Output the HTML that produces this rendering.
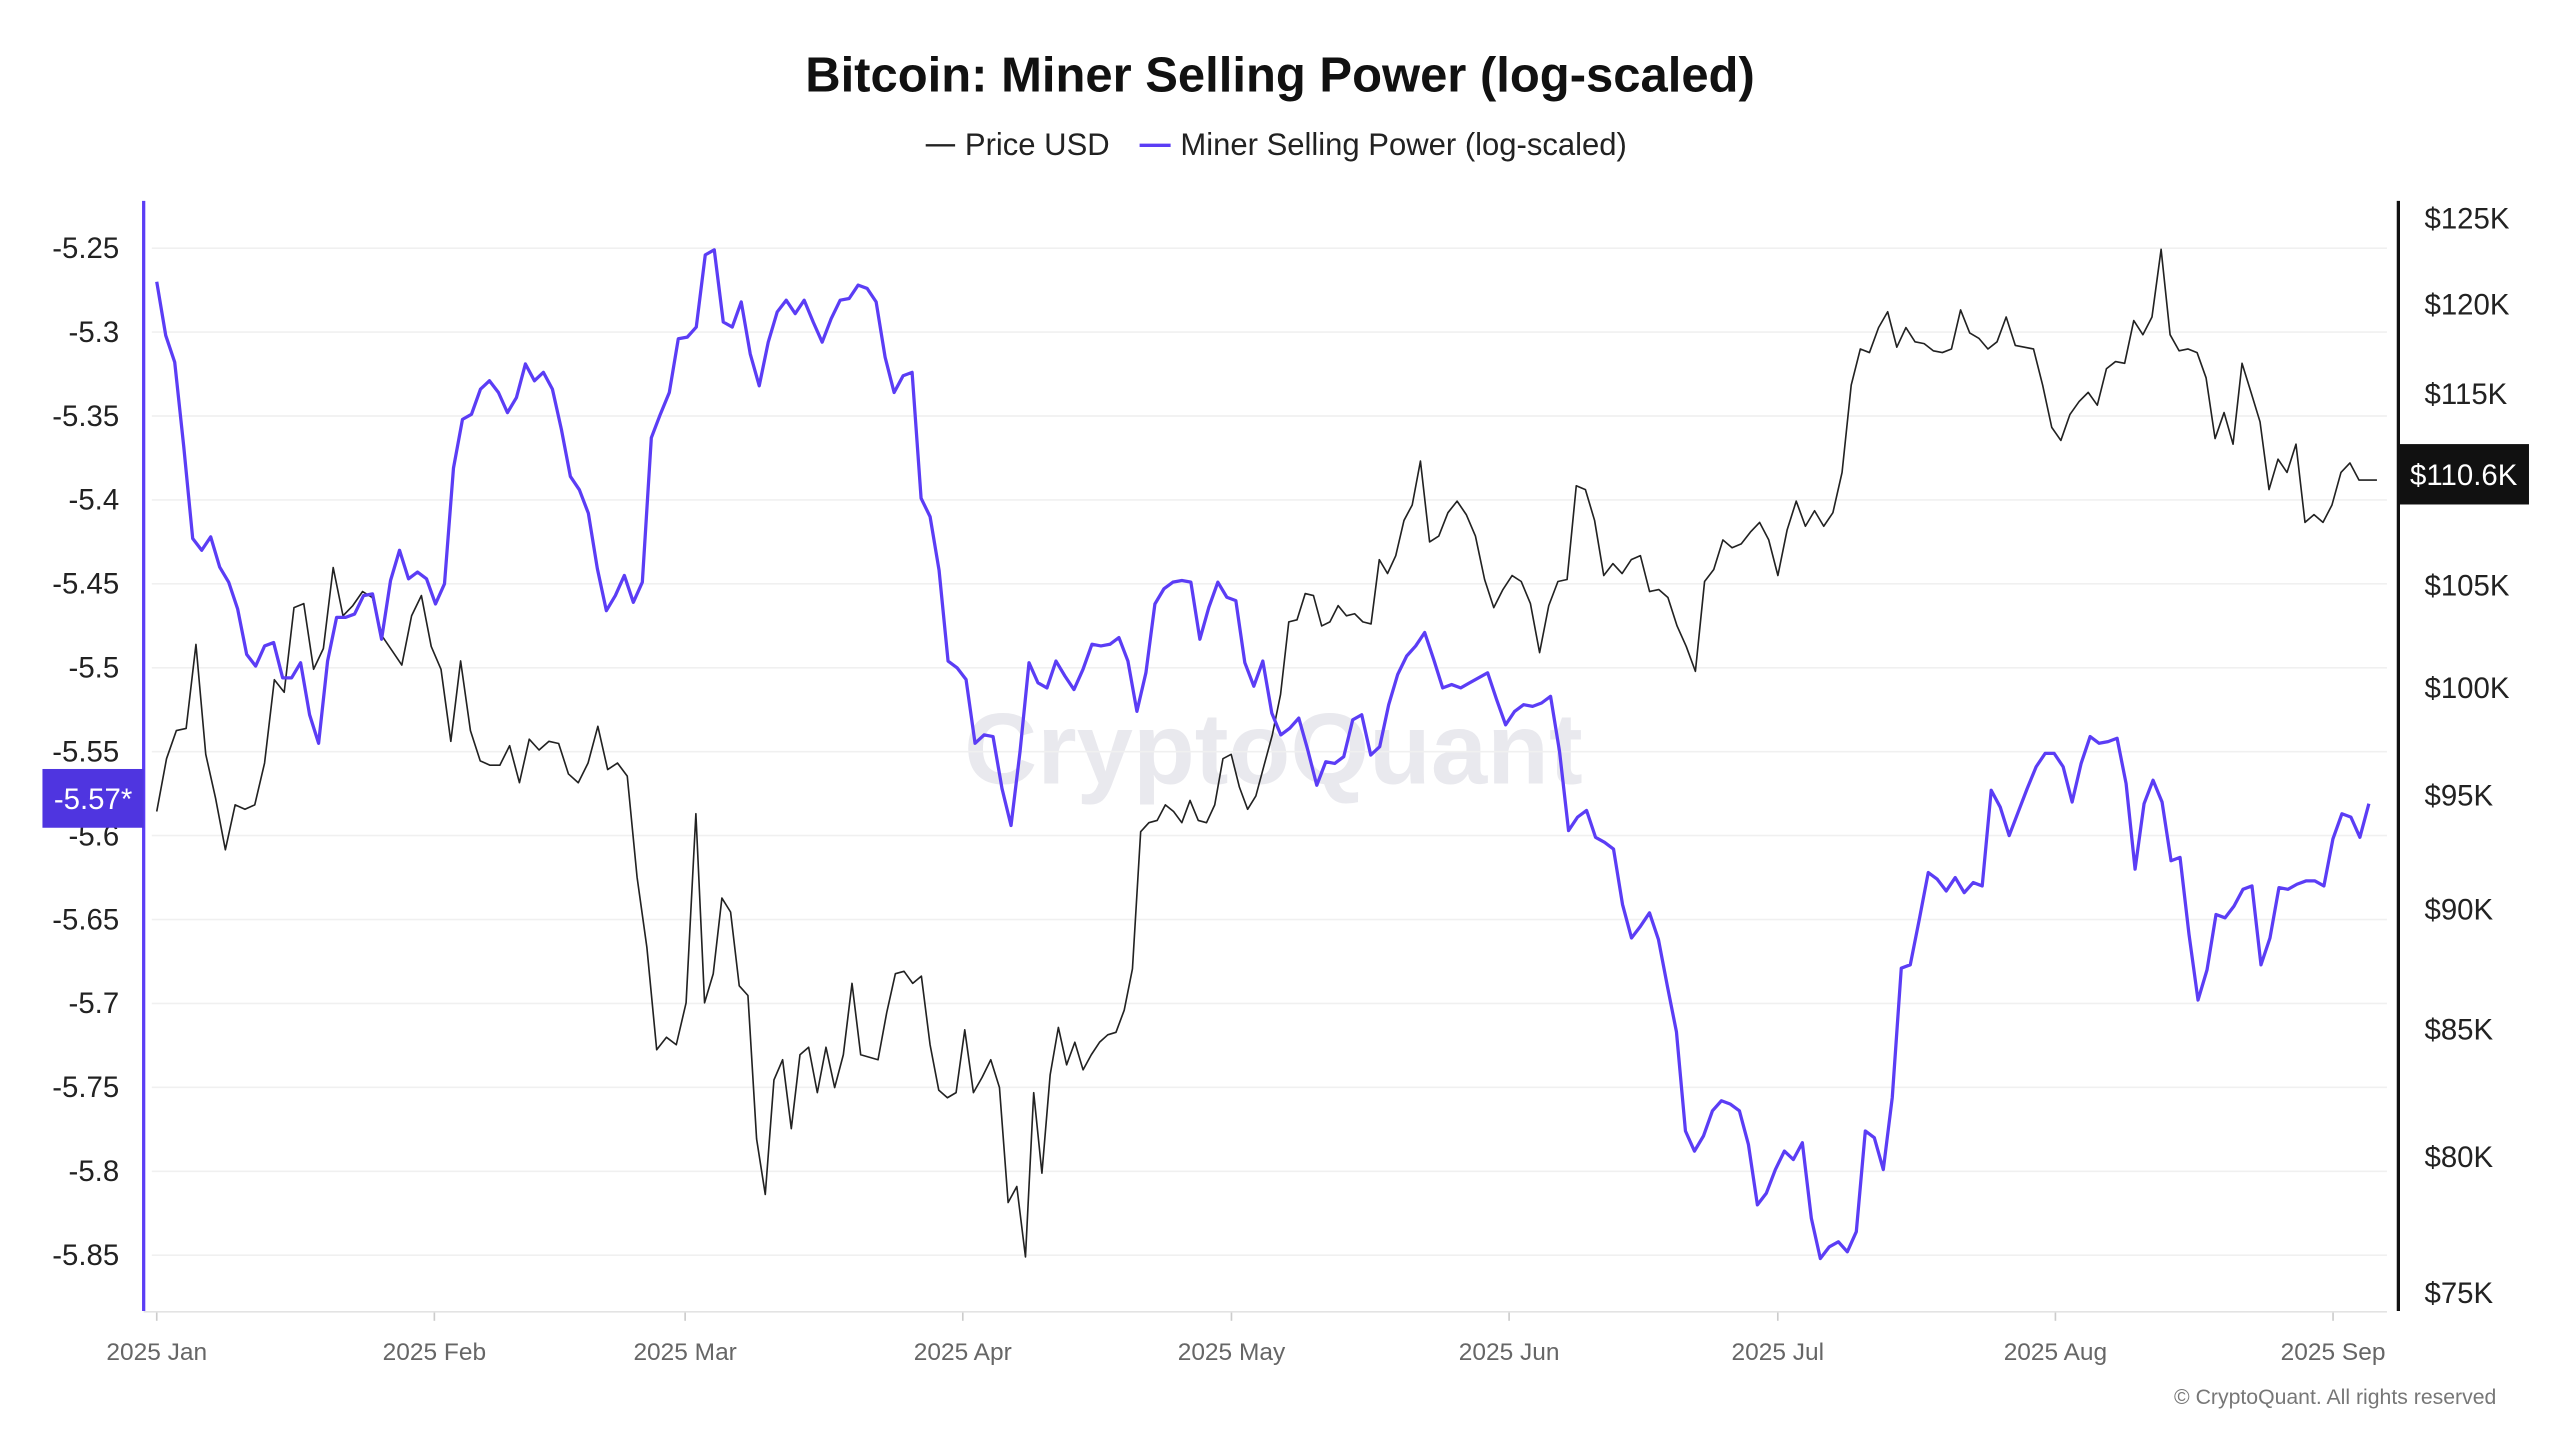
<!DOCTYPE html>
<html><head><meta charset="utf-8"><style>
html,body{margin:0;padding:0;background:#fff;}
svg{display:block;font-family:"Liberation Sans",sans-serif;}
</style></head><body>
<svg id="chart" width="2560" height="1440" viewBox="0 0 1568 882" xmlns="http://www.w3.org/2000/svg">
<rect width="1568" height="882" fill="#fff"/>
<text x="780" y="480" text-anchor="middle" font-size="62" font-weight="bold" fill="#e9e9ee">CryptoQuant</text>
<text x="784" y="56" text-anchor="middle" font-size="30" font-weight="bold" fill="#111">Bitcoin: Miner Selling Power (log-scaled)</text>
<g>
<g><line x1="567" y1="89" x2="585" y2="89" stroke="#222" stroke-width="1.5"/><text x="591" y="95" font-size="19" fill="#222">Price USD</text></g>
<g><line x1="698" y1="89" x2="717" y2="89" stroke="#5b3df5" stroke-width="2"/><text x="723" y="95" font-size="19" fill="#222">Miner Selling Power (log-scaled)</text></g>
</g>
<g id="grid"></g>
<g id="axes"></g>
<g id="series"></g>
<g id="badges"></g>
<text x="1529" y="860" text-anchor="end" font-size="13" fill="#777">© CryptoQuant. All rights reserved</text>
</svg>
<script>
const leftTicks=[-5.25,-5.3,-5.35,-5.4,-5.45,-5.5,-5.55,-5.6,-5.65,-5.7,-5.75,-5.8,-5.85];
const leftTickLabels=["-5.25","-5.3","-5.35","-5.4","-5.45","-5.5","-5.55","-5.6","-5.65","-5.7","-5.75","-5.8","-5.85"];
const rightTicks=[75,80,85,90,95,100,105,115,120,125];
const rightTickLabels=["$75K","$80K","$85K","$90K","$95K","$100K","$105K","$115K","$120K","$125K"];
const monthDays=[0,31,59,90,120,151,181,212,243];
const monthLabels=["2025 Jan","2025 Feb","2025 Mar","2025 Apr","2025 May","2025 Jun","2025 Jul","2025 Aug","2025 Sep"];
const priceAnchorIdx=[0,55,93,141,188,222,246];
const priceAnchorDay=[0,60.2,97,141.1,189.2,223.8,247.9];
const mspLastDay=247;
const priceValues=[94.3,96.7,98.0,98.1,102.1,96.9,94.9,92.6,94.6,94.4,94.6,96.5,100.4,99.8,103.9,104.1,100.9,101.9,105.9,103.5,104.0,104.7,104.4,102.5,101.8,101.1,103.5,104.5,102.0,100.9,97.5,101.3,98.0,96.6,96.4,96.4,97.3,95.6,97.6,97.1,97.5,97.4,96.0,95.6,96.5,98.2,96.2,96.5,95.9,91.4,88.4,84.2,84.7,84.4,86.1,94.2,86.1,87.3,90.5,89.9,86.8,86.4,80.7,78.6,83.0,83.8,81.1,84.0,84.3,82.5,84.3,82.7,84.0,86.9,84.0,83.9,83.8,85.7,87.3,87.4,86.9,87.2,84.4,82.6,82.3,82.5,85.0,82.5,83.1,83.8,82.7,78.3,78.9,76.3,82.5,79.4,83.2,85.1,83.6,84.5,83.4,84.0,84.5,84.8,84.9,85.8,87.5,93.4,93.8,93.9,94.6,94.3,93.8,94.8,93.9,93.8,94.6,96.7,96.9,95.4,94.4,95.0,96.4,97.8,99.7,103.2,103.3,104.6,104.5,103.0,103.2,104.0,103.5,103.6,103.2,103.1,106.3,105.6,106.5,108.3,109.1,111.4,107.2,107.5,108.7,109.3,108.6,107.5,105.3,103.9,104.8,105.5,105.2,104.1,101.7,104.0,105.2,105.3,110.1,109.9,108.3,105.5,106.1,105.6,106.3,106.5,104.7,104.8,104.4,103.0,102.0,100.8,105.2,105.8,107.3,106.9,107.1,107.7,108.2,107.3,105.5,107.8,109.3,108.0,108.8,108.0,108.7,110.8,115.5,117.5,117.3,118.7,119.6,117.6,118.7,117.9,117.8,117.4,117.3,117.5,119.7,118.4,118.1,117.5,117.9,119.3,117.7,117.6,117.5,115.5,113.2,112.5,113.9,114.6,115.1,114.4,116.4,116.8,116.7,119.1,118.3,119.3,123.2,118.3,117.4,117.5,117.3,115.9,112.6,114.0,112.3,116.7,115.1,113.5,109.9,111.5,110.8,112.3,108.2,108.6,108.2,109.1,110.8,111.3,110.4,110.4,110.4];
const mspValues=[-5.270,-5.302,-5.318,-5.368,-5.423,-5.430,-5.422,-5.440,-5.449,-5.465,-5.492,-5.499,-5.487,-5.485,-5.506,-5.506,-5.497,-5.528,-5.545,-5.496,-5.470,-5.470,-5.468,-5.457,-5.456,-5.483,-5.448,-5.430,-5.447,-5.443,-5.447,-5.462,-5.450,-5.381,-5.352,-5.349,-5.334,-5.329,-5.336,-5.348,-5.339,-5.319,-5.329,-5.324,-5.334,-5.358,-5.386,-5.394,-5.408,-5.441,-5.466,-5.457,-5.445,-5.461,-5.449,-5.363,-5.349,-5.336,-5.304,-5.303,-5.297,-5.254,-5.251,-5.294,-5.297,-5.282,-5.313,-5.332,-5.306,-5.288,-5.281,-5.289,-5.281,-5.294,-5.306,-5.292,-5.281,-5.280,-5.272,-5.274,-5.282,-5.315,-5.336,-5.326,-5.324,-5.399,-5.410,-5.442,-5.496,-5.500,-5.507,-5.545,-5.540,-5.541,-5.572,-5.594,-5.550,-5.497,-5.509,-5.512,-5.496,-5.505,-5.513,-5.501,-5.486,-5.487,-5.486,-5.482,-5.496,-5.526,-5.503,-5.462,-5.453,-5.449,-5.448,-5.449,-5.483,-5.464,-5.449,-5.458,-5.460,-5.497,-5.511,-5.496,-5.527,-5.540,-5.536,-5.530,-5.549,-5.570,-5.556,-5.557,-5.553,-5.531,-5.528,-5.552,-5.547,-5.522,-5.504,-5.493,-5.487,-5.479,-5.495,-5.512,-5.510,-5.512,-5.509,-5.506,-5.503,-5.519,-5.534,-5.526,-5.522,-5.523,-5.521,-5.517,-5.550,-5.597,-5.589,-5.585,-5.601,-5.604,-5.608,-5.641,-5.661,-5.654,-5.646,-5.662,-5.690,-5.717,-5.776,-5.788,-5.779,-5.764,-5.758,-5.760,-5.764,-5.784,-5.820,-5.813,-5.799,-5.788,-5.793,-5.783,-5.828,-5.852,-5.845,-5.842,-5.848,-5.836,-5.776,-5.780,-5.799,-5.756,-5.679,-5.677,-5.650,-5.622,-5.626,-5.633,-5.625,-5.634,-5.628,-5.630,-5.573,-5.583,-5.600,-5.586,-5.572,-5.559,-5.551,-5.551,-5.559,-5.580,-5.557,-5.541,-5.545,-5.544,-5.542,-5.569,-5.620,-5.581,-5.567,-5.580,-5.615,-5.613,-5.659,-5.698,-5.680,-5.647,-5.649,-5.642,-5.632,-5.630,-5.677,-5.661,-5.631,-5.632,-5.629,-5.627,-5.627,-5.630,-5.602,-5.587,-5.589,-5.601,-5.581];
const priceLabel="$110.6K";
const mspLabel="-5.57*";

const NS="http://www.w3.org/2000/svg";
function xScale(day){return 96+day*(1429-96)/243;}
function yLeft(v){return 152+(-5.25-v)/0.05*51.4;}
function yRight(p){return 792-1288*Math.log(p/75);}
function mk(tag,attrs,parent){const e=document.createElementNS(NS,tag);for(const k in attrs)e.setAttribute(k,attrs[k]);parent.appendChild(e);return e;}
function priceDay(i){
  for(let k=0;k<priceAnchorIdx.length-1;k++){
    const a=priceAnchorIdx[k],b=priceAnchorIdx[k+1];
    if(i<=b||k===priceAnchorIdx.length-2){return priceAnchorDay[k]+(i-a)*(priceAnchorDay[k+1]-priceAnchorDay[k])/(b-a);}
  }
}
const grid=document.getElementById('grid'),axes=document.getElementById('axes'),series=document.getElementById('series'),badges=document.getElementById('badges');

leftTicks.forEach((v,i)=>{
  const y=yLeft(v);
  const g=mk('line',{x1:93,x2:1462,y1:y,y2:y,stroke:'#f0f0f0','stroke-width':1},grid);
  
  
  const t=mk('text',{x:73,y:y+6,'text-anchor':'end','font-size':18,fill:'#222'},axes);
  t.textContent=leftTickLabels[i];
  
  
});
rightTicks.forEach((p,i)=>{
  const y=yRight(p);
  const t=mk('text',{x:1485,y:y+6,'font-size':18,fill:'#222'},axes);
  t.textContent=rightTickLabels[i];
  
  
});
monthDays.forEach((d,i)=>{
  const x=xScale(d);
  const tk=mk('line',{x1:x,x2:x,y1:803,y2:809,stroke:'#ccc','stroke-width':1},axes);
  
  
  const t=mk('text',{x:x,y:833,'text-anchor':'middle','font-size':15,fill:'#666'},axes);
  t.textContent=monthLabels[i];
  
  
});
const xa=mk('line',{x1:88,x2:1462,y1:803.5,y2:803.5,stroke:'#e3e3e3','stroke-width':1},axes);


const la=mk('line',{x1:88,x2:88,y1:123,y2:803,stroke:'#5b3df5','stroke-width':2},axes);


const ra=mk('line',{x1:1469,x2:1469,y1:123,y2:803,stroke:'#111','stroke-width':2},axes);



const pPts=priceValues.map((v,i)=>xScale(priceDay(i)).toFixed(2)+','+yRight(v).toFixed(2)).join(' ');
const mPts=mspValues.map((v,i)=>xScale(i*mspLastDay/(mspValues.length-1)).toFixed(2)+','+yLeft(v).toFixed(2)).join(' ');
const pl=mk('polyline',{points:pPts,fill:'none',stroke:'#222','stroke-width':1,'stroke-linejoin':'round'},series);


const ml=mk('polyline',{points:mPts,fill:'none',stroke:'#5b3df5','stroke-width':2,'stroke-linejoin':'round'},series);



const yp=290.5;
const pb=mk('rect',{x:1469,y:yp-18.5,width:80,height:37,fill:'#111'},badges);


const pt=mk('text',{x:1509,y:yp+6.5,'text-anchor':'middle','font-size':18,fill:'#fff'},badges);
pt.textContent=priceLabel;


const ym=489;
const mb=mk('rect',{x:26,y:ym-18,width:62,height:36,fill:'#4f35e0'},badges);


const mt=mk('text',{x:57,y:ym+6.5,'text-anchor':'middle','font-size':18,fill:'#fff'},badges);
mt.textContent=mspLabel;


</script>
</body></html>
